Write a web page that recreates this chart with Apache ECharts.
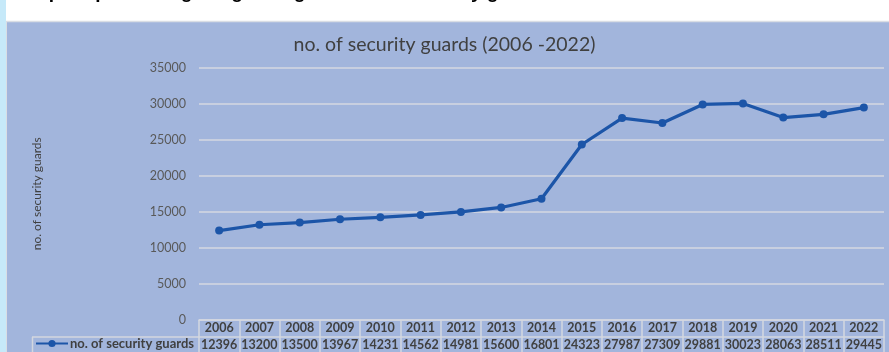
<!DOCTYPE html>
<html>
<head>
<meta charset="utf-8">
<script src="https://cdn.jsdelivr.net/npm/echarts@6/dist/echarts.min.js"></script>
<style>
html,body{margin:0;padding:0;background:#ffffff;}
#c{width:889px;height:352px;}
</style>
</head>
<body>
<div id="c"></div>
<script>
const categories = ['2006','2007','2008','2009','2010','2011','2012','2013','2014','2015','2016','2017','2018','2019','2020','2021','2022'];
const guards = [12396,13200,13500,13967,14231,14562,14981,15600,16801,24323,27987,27309,29881,30023,28063,28511,29445];
const yTicks = {min:0, max:35000, interval:5000};
const seriesName = 'no. of security guards';
const chartTitle = 'no. of security guards (2006 -2022)';
const headingText = 'Graph representing the growing number of security guards';

const chart = echarts.init(document.getElementById('c'));
const font = 'Lato, "Open Sans", sans-serif';
const tableLine = '#d3d7df';
const lineColor = '#1c55a8';

chart.setOption({
  backgroundColor: '#a2b5dc',
  animation: false,
  textStyle: {fontFamily: font},
  title: {
    text: chartTitle,
    left: 'center',
    top: 30,
    textStyle: {fontFamily: font, fontSize: 19.5, fontWeight: 'normal', color: '#404040'}
  },
  legend: {
    data: [seriesName],
    left: 35,
    top: 337,
    itemWidth: 32,
    itemHeight: 9,
    itemGap: 0,
    padding: 0,
    textStyle: {fontFamily: font, fontSize: 13, fontWeight: 'bold', color: '#404040', padding: [0,0,0,-3]}
  },
  grid: {left: 199, right: 5, top: 67.5, bottom: 32, containLabel: false},
  xAxis: [
    {
      type: 'category',
      data: categories,
      position: 'bottom',
      boundaryGap: true,
      axisLine: {show: true, lineStyle: {color: tableLine, width: 1.5}},
      axisTick: {show: true, interval: 0, alignWithLabel: false, length: 34, lineStyle: {color: tableLine, width: 1.5}},
      axisLabel: {interval: 0, margin: 1, fontFamily: font, fontSize: 12.5, fontWeight: 'bold', color: '#404040'},
      splitLine: {show: false}
    },
    {
      type: 'category',
      data: categories,
      position: 'bottom',
      offset: 17,
      boundaryGap: true,
      axisLine: {show: true, lineStyle: {color: tableLine, width: 1.5}},
      axisTick: {show: false},
      axisLabel: {interval: 0, margin: 1, fontFamily: font, fontSize: 12.5, fontWeight: 'bold', color: '#404040',
        formatter: function (v, i) { return String(guards[i]); }},
      splitLine: {show: false}
    }
  ],
  yAxis: {
    type: 'value',
    min: yTicks.min,
    max: yTicks.max,
    interval: yTicks.interval,
    name: seriesName,
    nameLocation: 'middle',
    nameGap: 156,
    nameRotate: 90,
    nameTextStyle: {fontFamily: font, fontSize: 12, color: '#404040'},
    axisLine: {show: false},
    axisTick: {show: false},
    axisLabel: {margin: 13, fontFamily: font, fontSize: 12.5, color: '#595959',
      formatter: function (v) { return String(v); }},
    splitLine: {show: true, lineStyle: {color: '#d4d8e2', width: 1.5}}
  },
  series: [{
    name: seriesName,
    type: 'line',
    xAxisIndex: 0,
    data: guards,
    symbol: 'circle',
    symbolSize: 8,
    lineStyle: {color: lineColor, width: 3.2},
    itemStyle: {color: lineColor}
  }],
  graphic: [
    {type: 'rect', z: -10, shape: {x: 0, y: 0, width: 889, height: 21}, style: {fill: '#ffffff'}},
    {type: 'line', z: -9, shape: {x1: 6, y1: 21.5, x2: 889, y2: 21.5}, style: {stroke: '#d9dde4', lineWidth: 1.5}},
    {type: 'rect', z: -9, shape: {x: 0, y: 0, width: 6, height: 352}, style: {fill: '#c6e9f9'}},
    {type: 'line', z: -9, shape: {x1: 6.5, y1: 21, x2: 6.5, y2: 352}, style: {stroke: '#d9dde4', lineWidth: 1}},
    {type: 'line', shape: {x1: 32, y1: 337, x2: 199, y2: 337}, style: {stroke: tableLine, lineWidth: 1.5}},
    {type: 'line', shape: {x1: 32.5, y1: 337, x2: 32.5, y2: 352}, style: {stroke: tableLine, lineWidth: 1.5}},
    {type: 'text', x: 16, y: -17, style: {text: headingText, font: 'bold 19px "Liberation Sans", Arial, sans-serif', fill: '#000000', textVerticalAlign: 'top'}}
  ]
});
</script>
</body>
</html>
